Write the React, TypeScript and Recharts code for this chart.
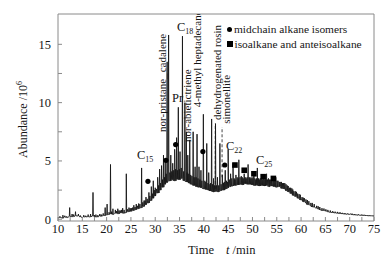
import React from 'react';
import { ComposedChart, Line, Scatter, XAxis, YAxis, ReferenceLine, Legend } from 'recharts';

const FONT = "'Liberation Serif', 'Times New Roman', Times, serif";

// baseline of the chromatogram, sampled every 0.5 min from 10 min
const baseStart = 10;
const baseStep = 0.5;
const baselineValues: number[] = [
  0.12, 0.15, 0.1, 0.18, 0.15, 0.25, 0.22, 0.3, 0.28, 0.2,
  0.15, 0.2, 0.22, 0.2, 0.28, 0.22, 0.2, 0.28, 0.25, 0.32,
  0.38, 0.42, 0.45, 0.42, 0.52, 0.48, 0.55, 0.52, 0.58, 0.65,
  0.68, 0.75, 0.82, 0.9, 0.98, 1.1, 1.25, 1.4, 1.6, 1.8,
  2.0, 2.25, 2.5, 2.75, 3.0, 3.15, 3.3, 3.4, 3.3, 3.45,
  3.4, 3.5, 3.3, 3.2, 3.1, 3.0, 2.9, 2.8, 2.75, 2.7,
  2.6, 2.55, 2.5, 2.42, 2.35, 2.4, 2.35, 2.45, 2.5, 2.6,
  2.7, 2.8, 2.85, 2.9, 2.95, 3.0, 2.95, 3.05, 3.0, 3.0,
  2.95, 2.9, 2.95, 2.85, 2.9, 2.85, 2.9, 2.8, 2.85, 2.8,
  2.75, 2.8, 2.65, 2.6, 2.45, 2.35, 2.2, 2.05, 1.95, 1.8,
  1.65, 1.5, 1.4, 1.25, 1.15, 1.05, 0.95, 0.9, 0.8, 0.75,
  0.7, 0.65, 0.6, 0.58, 0.55, 0.52, 0.5, 0.48, 0.45, 0.43,
  0.42, 0.4, 0.38, 0.37, 0.35, 0.34, 0.33, 0.32, 0.3, 0.3,
  0.28,
];

// resolved peaks: [retention time (min), apex abundance (10^6)]
const peaks: [number, number][] = [
  [11.0, 0.35], [12.4, 1.0], [12.9, 0.45], [13.6, 0.65], [14.2, 0.45], [15.3, 0.35],
  [16.2, 0.4], [16.7, 0.45], [17.2, 2.3], [17.8, 0.4], [18.6, 0.45], [19.3, 0.5],
  [19.7, 1.0], [20.1, 1.3], [20.8, 4.7], [21.3, 0.9], [21.8, 0.8], [22.3, 0.9],
  [22.8, 0.75], [23.3, 0.95], [24.05, 3.9], [24.6, 1.0], [25.1, 0.95], [25.6, 1.2],
  [26.1, 1.3], [26.6, 1.35], [27.2, 4.4], [27.7, 1.6], [28.1, 1.9], [28.7, 2.3],
  [29.2, 2.8], [29.6, 3.3], [30.0, 2.7], [30.5, 3.6], [30.9, 4.3], [31.3, 4.6],
  [31.7, 5.5], [32.05, 5.0], [32.45, 13.5], [32.75, 15.8], [33.2, 5.5], [33.6, 4.8],
  [34.0, 6.0], [34.4, 7.0], [34.75, 9.6], [35.1, 5.8], [35.6, 15.7], [36.1, 10.0],
  [36.4, 7.5], [36.7, 5.5], [37.1, 6.8], [37.8, 7.5], [38.2, 4.5], [38.6, 7.3],
  [39.0, 4.5], [39.4, 4.2], [39.9, 9.0], [40.6, 6.5], [41.0, 4.0], [41.6, 8.6],
  [42.0, 3.5], [42.4, 8.2], [42.8, 3.6], [43.3, 6.5], [43.8, 3.8], [44.4, 4.2],
  [45.0, 6.0], [45.5, 3.9], [46.0, 4.8], [46.6, 3.8], [47.2, 5.1], [47.7, 3.7],
  [48.3, 3.9], [48.7, 3.5], [49.1, 4.7], [49.7, 3.6], [50.3, 3.7], [50.7, 3.4],
  [51.0, 4.4], [51.6, 3.5], [52.2, 3.5], [52.9, 3.9], [53.5, 3.4], [54.2, 3.3],
  [54.8, 3.6], [55.5, 3.2], [56.2, 3.1], [56.9, 3.0], [57.6, 2.7], [58.5, 2.4],
  [59.3, 2.2], [60.2, 1.9], [61.0, 1.7], [62.0, 1.4], [63.2, 1.15], [64.3, 0.95],
  [65.5, 0.8], [67.0, 0.65], [68.5, 0.55], [70.5, 0.48], [72.5, 0.4],
];

// unresolved small spikes forming the noisy hump: [time, apex]
const minorPeaks: [number, number][] = [
  [10.4, 0.25], [11.4, 0.3], [11.8, 0.25], [13.2, 0.4], [14.6, 0.32], [15.7, 0.3],
  [17.5, 0.35], [18.2, 0.35], [18.9, 0.4], [20.5, 0.6], [21.0, 0.65],
  [22.0, 0.7], [22.55, 0.75], [23.05, 0.8], [23.6, 0.8], [24.3, 0.85], [24.85, 0.95],
  [25.35, 1.0], [25.85, 1.05], [26.35, 1.15], [26.85, 1.3], [27.45, 1.45], [27.9, 1.6],
  [28.35, 1.75], [28.9, 2.0], [29.4, 2.2], [29.8, 2.5], [30.25, 2.6], [30.7, 2.9],
  [31.1, 3.1], [31.5, 3.4], [31.9, 3.6], [32.25, 3.9], [33.0, 4.0], [33.4, 4.1],
  [33.8, 4.2], [34.2, 4.3], [34.55, 4.2], [34.95, 4.3], [35.35, 4.4], [35.85, 4.1],
  [36.55, 4.0], [36.9, 3.9], [37.3, 3.8], [37.55, 3.7], [38.0, 3.6], [38.4, 3.6],
  [38.8, 3.5], [39.2, 3.4], [39.6, 3.3], [40.2, 3.3], [40.4, 3.2], [40.85, 3.1],
  [41.25, 3.0], [41.4, 3.1], [41.8, 3.0], [42.2, 2.9], [42.6, 2.9], [43.05, 2.9],
  [43.55, 3.0], [44.05, 3.1], [44.2, 3.2], [44.65, 3.3], [44.85, 3.2], [45.25, 3.4],
  [45.75, 3.5], [46.25, 3.5], [46.4, 3.4], [46.85, 3.6], [47.05, 3.5], [47.45, 3.6],
  [47.9, 3.6], [48.1, 3.5], [48.5, 3.6], [48.9, 3.6], [49.35, 3.6], [49.5, 3.5],
  [49.9, 3.5], [50.1, 3.6], [50.5, 3.5], [50.85, 3.5], [51.25, 3.5], [51.4, 3.4],
  [51.8, 3.5], [52.0, 3.4], [52.4, 3.4], [52.6, 3.5], [52.75, 3.4], [53.1, 3.4],
  [53.3, 3.5], [53.75, 3.4], [53.95, 3.4], [54.4, 3.3], [54.6, 3.4], [55.05, 3.3],
  [55.25, 3.3], [55.7, 3.2], [55.95, 3.2], [56.4, 3.1], [56.65, 3.1], [57.15, 2.9],
  [57.35, 2.85], [57.85, 2.7], [58.1, 2.65], [58.3, 2.55], [58.8, 2.4], [59.05, 2.35],
  [59.6, 2.15], [59.85, 2.1], [60.45, 1.85], [60.7, 1.8], [61.3, 1.65], [61.6, 1.55],
  [62.3, 1.4], [62.7, 1.3], [63.5, 1.12], [63.85, 1.05], [64.7, 0.92], [65.1, 0.85],
  [66.0, 0.75], [66.5, 0.7], [67.5, 0.63], [68.0, 0.6], [69.0, 0.53], [69.6, 0.5],
  [70.2, 0.48], [71.0, 0.45], [71.8, 0.42], [73.0, 0.38], [74.0, 0.35],
];

const midchainDots = [
  { t: 28.5, v: 3.25 }, { t: 32.2, v: 5.05 }, { t: 34.2, v: 6.4 },
  { t: 39.8, v: 5.8 }, { t: 44.3, v: 4.65 },
];
const isoSquares = [
  { t: 46.4, v: 4.65 }, { t: 48.3, v: 4.2 }, { t: 50.3, v: 3.9 },
  { t: 52.2, v: 3.65 }, { t: 54.3, v: 3.5 },
];

const plainLabels = [
  { t: 26.25, v: 5.18, main: 'C', sub: '15' },
  { t: 33.45, v: 10.06, main: 'Pr', sub: '' },
  { t: 34.48, v: 16.14, main: 'C', sub: '18' },
  { t: 44.55, v: 5.95, main: 'C', sub: '22' },
  { t: 50.72, v: 4.75, main: 'C', sub: '25' },
];
const rotatedLabels = [
  { t: 32.32, v: 7.49, text: 'nor-pristane_' },
  { t: 32.32, v: 12.6, text: 'cadalene' },
  { t: 37.46, v: 6.63, text: 'nor-abietictriene' },
  { t: 39.5, v: 9.6, text: '4-methyl heptadecane' },
  { t: 43.53, v: 8.52, text: 'dehydrogenated rosin' },
  { t: 45.38, v: 8.18, text: 'simonellite' },
];
const leaders = [
  { t: 42.35, from: 2.6, to: 8.2 },
  { t: 43.75, from: 3.6, to: 7.9 },
];

const legendItems = [
  { shape: 'dot', label: 'midchain alkane isomers' },
  { shape: 'square', label: 'isoalkane and anteisoalkane' },
];

const xTicks = [10, 12.5, 15, 17.5, 20, 22.5, 25, 27.5, 30, 32.5, 35, 37.5, 40, 42.5, 45, 47.5, 50, 52.5, 55, 57.5, 60, 62.5, 65, 67.5, 70, 72.5, 75];
const yTicks = [0, 2.5, 5, 7.5, 10, 12.5, 15];

function buildTrace() {
  const pts: { t: number; v: number }[] = baselineValues.map((v, i) => ({ t: baseStart + i * baseStep, v }));
  const addSpike = (t: number, top: number, w: number) => {
    const idx = Math.min(baselineValues.length - 1, Math.max(0, Math.round((t - baseStart) / baseStep)));
    const b = baselineValues[idx];
    pts.push({ t: t - w, v: b }, { t, v: top }, { t: t + w, v: b });
  };
  peaks.forEach(([t, top]) => addSpike(t, top, 0.07));
  minorPeaks.forEach(([t, top]) => addSpike(t, top, 0.08));
  pts.sort((a, b) => a.t - b.t);
  return pts;
}
const trace = buildTrace();

const ink = '#161616';
const frame = '#8a8a8a';
const fontStyle = { fontFamily: FONT };

const DotShape = (p: any) => <circle cx={p.cx} cy={p.cy} r={2.6} fill="#000" />;
const SquareShape = (p: any) => <rect x={p.cx - 2.8} y={p.cy - 2.8} width={5.6} height={5.6} fill="#000" />;

const PlainLabel = (p: any) => (
  <text x={p.cx} y={p.cy} style={fontStyle} fontSize={12.5} fill={ink}>
    {p.payload.main}
    {p.payload.sub ? (
      <tspan fontSize={8} dy={3}>{p.payload.sub}</tspan>
    ) : null}
  </text>
);

const RotLabel = (p: any) => (
  <text
    x={p.cx}
    y={p.cy}
    transform={`rotate(-90 ${p.cx} ${p.cy})`}
    style={fontStyle}
    fontSize={11}
    fill={ink}
  >
    {p.payload.text}
  </text>
);

const YTitle = (p: any) => {
  const vb = p.viewBox || { x: 18, y: 14, width: 40, height: 207 };
  const x = vb.x + 8.5;
  const y = vb.y + vb.height / 2 + 2;
  return (
    <text x={x} y={y} transform={`rotate(-90 ${x} ${y})`} textAnchor="middle" style={fontStyle} fontSize={12} fill={ink}>
      Abundance /10<tspan fontSize={8} dy={-5}>6</tspan>
    </text>
  );
};

const XTitle = (p: any) => {
  const vb = p.viewBox || { x: 58, y: 221, width: 316, height: 30 };
  return (
    <text x={vb.x + 130} y={vb.y + 33} style={fontStyle} fontSize={12.5} fill={ink}>
      Time
      <tspan dx={12} fontStyle="italic">t</tspan>
      <tspan> /min</tspan>
    </text>
  );
};

const LegendBox = () => (
  <div style={{ fontFamily: FONT, fontSize: 11.4, color: ink, lineHeight: '14.5px' }}>
    {legendItems.map((it) => (
      <div key={it.label} style={{ display: 'flex', alignItems: 'center', whiteSpace: 'nowrap' }}>
        <span
          style={{
            display: 'inline-block',
            width: it.shape === 'dot' ? 5 : 5.5,
            height: it.shape === 'dot' ? 5 : 5.5,
            borderRadius: it.shape === 'dot' ? '50%' : 0,
            background: '#000',
            marginRight: 2,
          }}
        />
        <span>{it.label}</span>
      </div>
    ))}
  </div>
);

export default function App() {
  return (
    <div style={{ position: 'absolute', left: 0, top: 0, width: 389, height: 261, background: '#fff' }}>
      <ComposedChart width={389} height={261} margin={{ top: 14, right: 15, bottom: 10, left: 18 }} style={fontStyle}>
        <XAxis
          dataKey="t"
          type="number"
          domain={[10, 75]}
          ticks={xTicks}
          interval={0}
          tickFormatter={(v: number) => (v % 5 === 0 ? String(v) : '')}
          tickSize={-4}
          tickMargin={7.5}
          height={30}
          axisLine={{ stroke: frame }}
          tickLine={{ stroke: frame }}
          tick={{ fill: ink, fontSize: 12.5, fontFamily: FONT, style: fontStyle }}
          label={(p: any) => <XTitle {...p} />}
          allowDataOverflow
        />
        <YAxis
          type="number"
          domain={[-0.15, 17.6]}
          ticks={yTicks}
          interval={0}
          tickFormatter={(v: number) => (v % 5 === 0 ? String(v) : '')}
          tickSize={-4}
          tickMargin={11}
          width={40}
          axisLine={{ stroke: frame }}
          tickLine={{ stroke: frame }}
          tick={{ fill: ink, fontSize: 12.5, fontFamily: FONT, style: fontStyle }}
          label={(p: any) => <YTitle {...p} />}
          allowDataOverflow
        />
        <ReferenceLine y={17.6} stroke={frame} />
        <ReferenceLine x={75} stroke={frame} />
        {leaders.map((l) => (
          <ReferenceLine
            key={l.t}
            segment={[{ x: l.t, y: l.from }, { x: l.t, y: l.to }]}
            stroke={ink}
            strokeWidth={0.8}
            strokeDasharray="3 2"
          />
        ))}
        <Line
          data={trace}
          dataKey="v"
          type="linear"
          stroke={ink}
          strokeWidth={0.9}
          dot={false}
          activeDot={false}
          isAnimationActive={false}
        />
        <Scatter data={midchainDots} dataKey="v" shape={DotShape} isAnimationActive={false} />
        <Scatter data={isoSquares} dataKey="v" shape={SquareShape} isAnimationActive={false} />
        <Scatter data={plainLabels} dataKey="v" shape={PlainLabel} isAnimationActive={false} />
        <Scatter data={rotatedLabels} dataKey="v" shape={RotLabel} isAnimationActive={false} />
        <Legend
          layout="vertical"
          align="center"
          verticalAlign="middle"
          wrapperStyle={{ top: 22, left: 227, width: 160 }}
          content={() => <LegendBox />}
        />
      </ComposedChart>
    </div>
  );
}
